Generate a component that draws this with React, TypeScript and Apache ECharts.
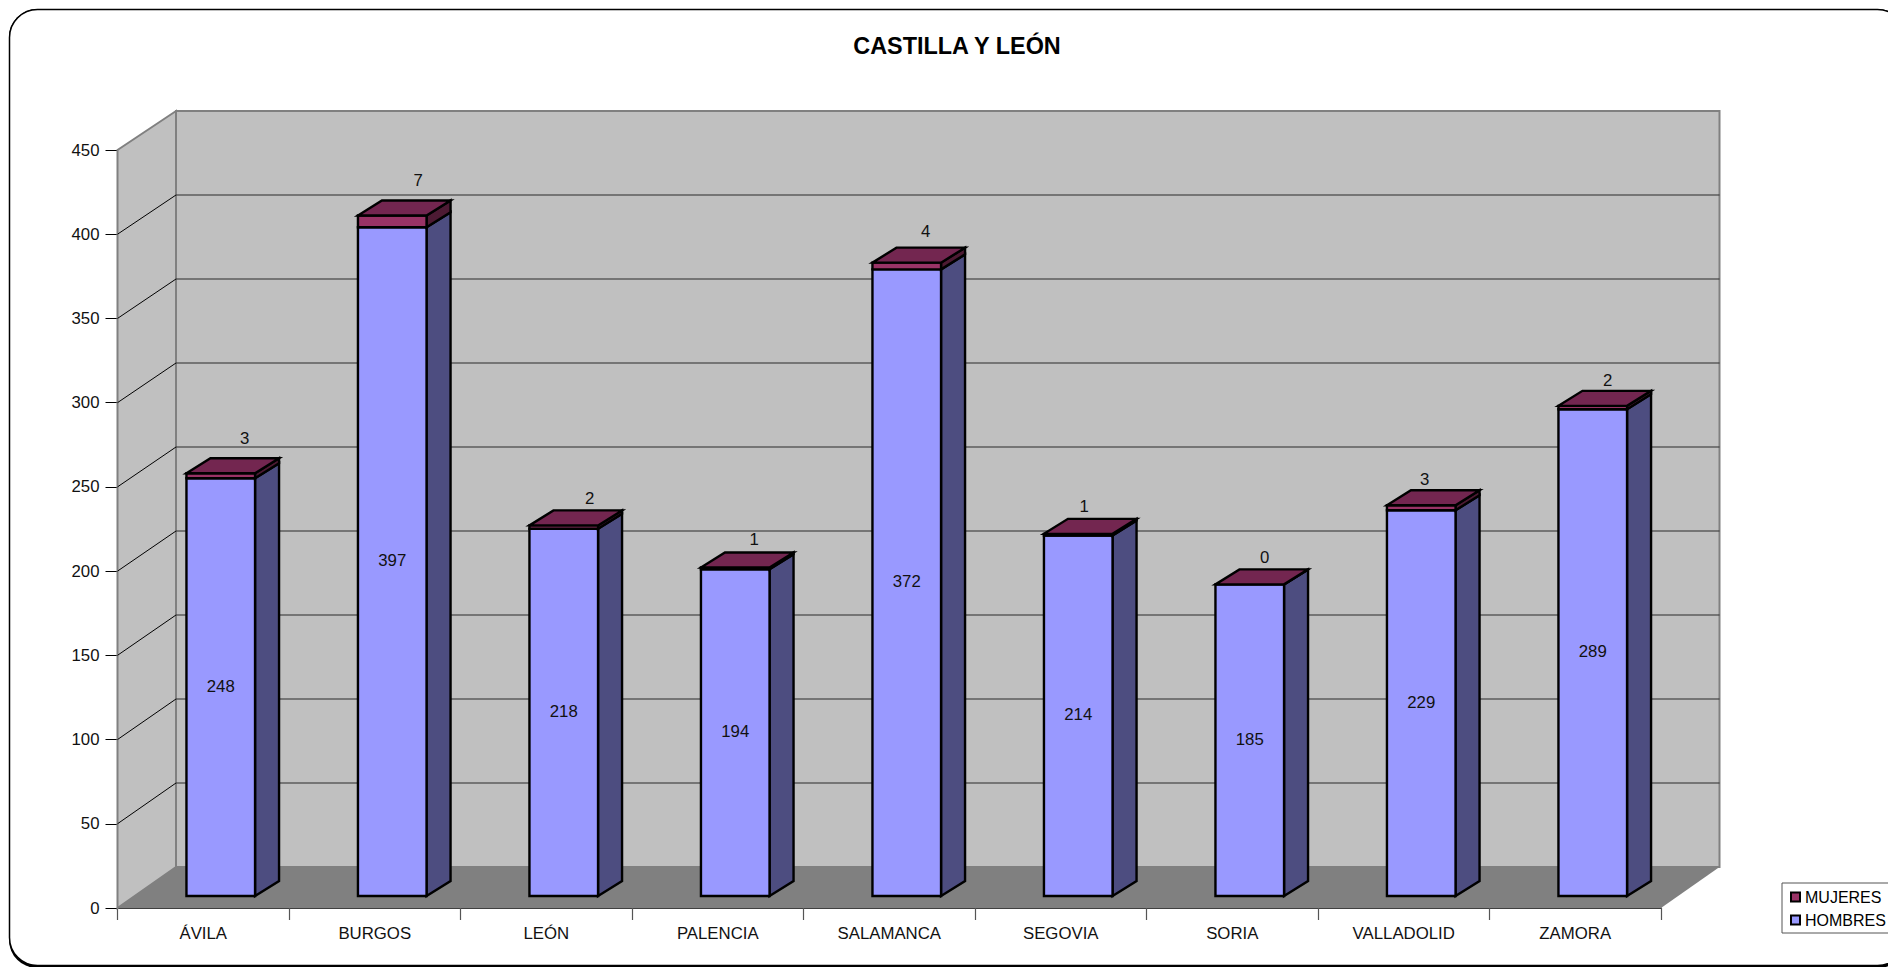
import React, { useEffect, useRef } from "react";
import * as echarts from "echarts";

const categories = ["ÁVILA", "BURGOS", "LEÓN", "PALENCIA", "SALAMANCA", "SEGOVIA", "SORIA", "VALLADOLID", "ZAMORA"];
const hombres = [248, 397, 218, 194, 372, 214, 185, 229, 289];
const mujeres = [3, 7, 2, 1, 4, 1, 0, 3, 2];
const yTicks = [0, 50, 100, 150, 200, 250, 300, 350, 400, 450];

const FONT = "Liberation Sans";
const WALL_DX = 58.5;
const WALL_DY_BOTTOM = -41;
const WALL_DY_TOP = -39;
const BAR_DX = 17.5;
const BAR_DY = -12;
const SIDE_DX = 24;
const SIDE_DY = -15;
const BAR_RATIO = 0.4;
// The reference's MUJERES labels were placed by hand: offset from the bar's front top centre.
const TOP_LABEL_DX = [24, 26, 26, 19, 19, 6, 15, 3.5, 15];
const TOP_LABEL_DY = [-35, -35, -27, -28, -31, -27, -27, -26, -25];

const wallsRender = (params: any, api: any) => {
  const cs = params.coordSys;
  const x0 = cs.x;
  const x1 = cs.x + cs.width;
  const v = api.value(0);
  const y = api.coord([0, v])[1];
  const y0 = api.coord([0, 0])[1];
  const yTop = api.coord([0, 450])[1];
  const backY = (val: number) => {
    const f = val / 450;
    return api.coord([0, val])[1] + WALL_DY_BOTTOM + (WALL_DY_TOP - WALL_DY_BOTTOM) * f;
  };
  const children: any[] = [];
  if (params.dataIndex === 0) {
    const bTop = backY(450);
    const bBot = backY(0);
    children.push(
      { type: "polygon", shape: { points: [[x0, yTop], [x0 + WALL_DX, bTop], [x0 + WALL_DX, bBot], [x0, y0]] }, style: { fill: "#c0c0c0", stroke: "#808080", lineWidth: 2 } },
      { type: "polygon", shape: { points: [[x0 + WALL_DX, bTop], [x1 + WALL_DX, bTop], [x1 + WALL_DX, bBot], [x0 + WALL_DX, bBot]] }, style: { fill: "#c0c0c0", stroke: "#808080", lineWidth: 2 } },
      { type: "polygon", shape: { points: [[x0, y0], [x1, y0], [x1 + WALL_DX, bBot], [x0 + WALL_DX, bBot]] }, style: { fill: "#808080" } }
    );
  } else if (v < 450) {
    const by = backY(v);
    children.push(
      { type: "line", shape: { x1: x0, y1: y, x2: x0 + WALL_DX, y2: by }, style: { stroke: "#000", lineWidth: 1 } },
      { type: "line", shape: { x1: x0 + WALL_DX, y1: by, x2: x1 + WALL_DX, y2: by }, style: { stroke: "#2a2a2a", lineWidth: 1.2 } }
    );
  }
  return { type: "group", children };
};

const barRender = (front: string, side: string, top: string | null, labelAbove: boolean) => (params: any, api: any) => {
  const idx = api.value(0);
  const base = api.value(1);
  const val = api.value(2);
  const c = api.coord([idx, base]);
  const t = api.coord([idx, base + val]);
  const w = api.size([1, 0])[0] * BAR_RATIO;
  const l = c[0] + BAR_DX - w / 2;
  const r = l + w;
  const yb = c[1] + BAR_DY;
  const yt = t[1] + BAR_DY;
  const line = { stroke: "#000", lineWidth: 2.4, lineJoin: "miter" };
  const children: any[] = [
    { type: "polygon", shape: { points: [[r, yb], [r + SIDE_DX, yb + SIDE_DY], [r + SIDE_DX, yt + SIDE_DY], [r, yt]] }, style: { fill: side, ...line } },
    { type: "polygon", shape: { points: [[l, yb], [r, yb], [r, yt], [l, yt]] }, style: { fill: front, ...line } },
  ];
  if (top) {
    children.push({ type: "polygon", shape: { points: [[l, yt], [r, yt], [r + SIDE_DX, yt + SIDE_DY], [l + SIDE_DX, yt + SIDE_DY]] }, style: { fill: top, ...line } });
  }
  const lx = labelAbove ? (l + r) / 2 + TOP_LABEL_DX[idx] : (l + r) / 2;
  const ly = labelAbove ? yt + TOP_LABEL_DY[idx] : (yb + yt) / 2 - 1;
  children.push({
    type: "text",
    style: { x: lx, y: ly, text: String(val), fill: "#111", fontSize: 16.8, fontFamily: FONT, textAlign: "center", textVerticalAlign: "middle", align: "center", verticalAlign: "middle" },
  });
  return { type: "group", children };
};

export default function App() {
  const ref = useRef<HTMLDivElement>(null);
  useEffect(() => {
    const chart = echarts.init(ref.current!, undefined, { renderer: "svg" });
    chart.setOption({
      animation: false,
      backgroundColor: "#ffffff",
      textStyle: { fontFamily: FONT },
      title: {
        text: "CASTILLA Y LEÓN",
        left: 952,
        top: 29.5,
        textAlign: "center",
        textStyle: { fontFamily: FONT, fontWeight: "bold", fontSize: 23.4, color: "#000" },
      },
      graphic: [
        { type: "rect", z: -20, shape: { x: 9, y: 9, width: 1897, height: 959, r: 28 }, style: { fill: "#000" } },
        { type: "rect", z: -19, shape: { x: 9.5, y: 9.5, width: 1896, height: 956, r: 28 }, style: { fill: "#fff", stroke: "#000", lineWidth: 1.5 } },
      ],
      grid: { left: 117.5, right: 227, top: 150, bottom: 59 },
      xAxis: {
        type: "category",
        data: categories,
        axisLine: { lineStyle: { color: "#000", width: 1.5 } },
        axisTick: { show: true, alignWithLabel: false, length: 12, lineStyle: { color: "#555", width: 1.2 } },
        axisLabel: { fontSize: 16.8, fontFamily: FONT, color: "#111", margin: 17, interval: 0 },
        splitLine: { show: false },
      },
      yAxis: {
        type: "value",
        min: 0,
        max: 450,
        interval: 50,
        axisLine: { show: true, lineStyle: { color: "#808080", width: 2 } },
        axisTick: { show: true, length: 12, lineStyle: { color: "#000", width: 1 } },
        axisLabel: { fontSize: 16.8, fontFamily: FONT, color: "#111", margin: 18 },
        splitLine: { show: false },
      },
      legend: {
        show: true,
        orient: "vertical",
        left: 1782,
        top: 883,
        data: ["MUJERES", "HOMBRES"],
        icon: "rect",
        itemWidth: 9,
        itemHeight: 9,
        itemGap: 7,
        padding: [6, 30, 5, 8],
        backgroundColor: "#fff",
        borderColor: "#555",
        borderWidth: 1,
        textStyle: { fontSize: 16, fontFamily: FONT, color: "#000" },
      },
      series: [
        {
          type: "custom",
          name: "walls",
          z: 1,
          silent: true,
          renderItem: wallsRender,
          data: yTicks.map((v) => [v]),
          encode: { y: 0 },
        },
        {
          type: "custom",
          name: "HOMBRES",
          z: 3,
          itemStyle: { color: "#9999ff", borderColor: "#000", borderWidth: 2 },
          renderItem: barRender("#9999ff", "#4d4d80", null, false),
          data: categories.map((_, i) => [i, 0, hombres[i]]),
          encode: { x: 0, y: [1, 2] },
        },
        {
          type: "custom",
          name: "MUJERES",
          z: 4,
          itemStyle: { color: "#993366", borderColor: "#000", borderWidth: 2 },
          renderItem: barRender("#993366", "#4d1a33", "#732650", true),
          data: categories.map((_, i) => [i, hombres[i], mujeres[i]]),
          encode: { x: 0, y: [1, 2] },
        },
      ],
    });
    return () => chart.dispose();
  }, []);
  return <div ref={ref} style={{ position: "fixed", left: 0, top: 0, width: 1888, height: 967 }} />;
}
